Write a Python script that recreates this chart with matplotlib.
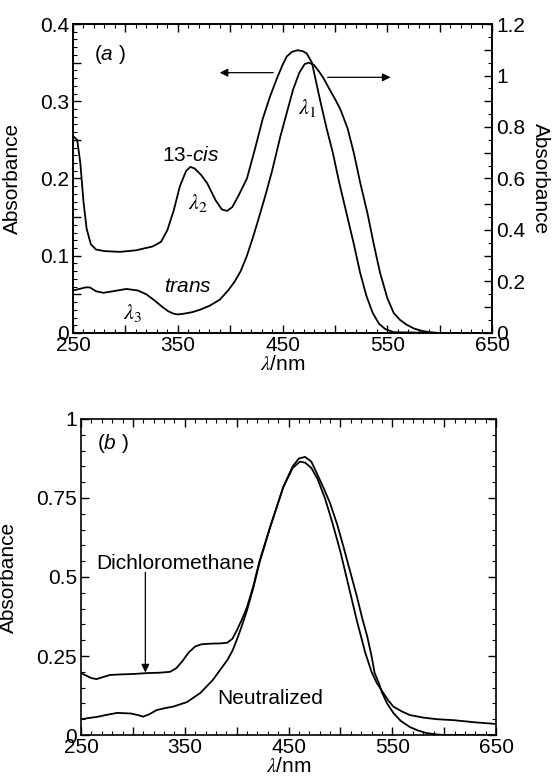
import numpy as np
import matplotlib
matplotlib.use("Agg")
import matplotlib.pyplot as plt
from matplotlib.ticker import MultipleLocator, FuncFormatter

plt.rcParams['font.family'] = ['Liberation Sans', 'DejaVu Sans']
plt.rcParams['mathtext.fontset'] = 'custom'
plt.rcParams['mathtext.rm'] = 'Liberation Sans'
plt.rcParams['mathtext.it'] = 'Liberation Sans:italic'
plt.rcParams['font.size'] = 15

# panel (a): 13-cis on left axis, trans on right axis
cis_wl = [250, 254, 257, 260, 263, 267, 272, 280, 295, 310, 326, 334, 340, 346, 352, 358, 362,
          366, 372, 378, 386, 392, 397, 402, 408, 416, 424, 431, 438, 445, 450, 454, 459, 464,
          469, 473, 478, 486, 492, 498, 504, 511, 518, 524, 530, 536, 542, 548, 552, 556, 600, 650]
cis_abs = [0.255, 0.25, 0.22, 0.17, 0.135, 0.115, 0.108, 0.106, 0.105, 0.107, 0.112, 0.118, 0.133,
           0.158, 0.19, 0.21, 0.215, 0.213, 0.205, 0.194, 0.172, 0.16, 0.158, 0.163, 0.178, 0.2,
           0.24, 0.277, 0.306, 0.331, 0.347, 0.358, 0.364, 0.366, 0.365, 0.362, 0.35, 0.3, 0.265,
           0.233, 0.195, 0.155, 0.115, 0.078, 0.048, 0.026, 0.012, 0.005, 0.003, 0.001, 0.0, 0.0]

trans_wl = [250, 256, 262, 266, 272, 279, 288, 301, 312, 320, 327, 335, 341, 346, 350, 356, 364,
            371, 380, 390, 398, 404, 410, 416, 422, 428, 434, 440, 448, 454, 460, 466, 471, 475,
            480, 485, 489, 495, 500, 505, 512, 518, 524, 531, 537, 543, 550, 556, 562, 568, 575,
            582, 590, 600, 650]
trans_abs = [0.165, 0.171, 0.177, 0.177, 0.162, 0.156, 0.162, 0.171, 0.165, 0.15, 0.129, 0.102,
             0.084, 0.075, 0.072, 0.075, 0.081, 0.09, 0.105, 0.129, 0.165, 0.198, 0.24, 0.3, 0.375,
             0.456, 0.54, 0.63, 0.765, 0.855, 0.945, 1.011, 1.044, 1.05, 1.041, 1.014, 0.99, 0.945,
             0.909, 0.87, 0.795, 0.699, 0.585, 0.465, 0.345, 0.234, 0.135, 0.078, 0.051, 0.033,
             0.018, 0.009, 0.003, 0.0, 0.0]

# panel (b)
dcm_wl = [250, 255, 260, 265, 270, 278, 290, 300, 314, 325, 336, 342, 348, 354, 360, 366, 375, 385,
          391, 396, 400, 405, 410, 416, 422, 432, 445, 454, 461, 466, 472, 478, 485, 492, 500, 508,
          516, 524, 530, 535, 540, 546, 551, 559, 567, 580, 593, 609, 630, 650]
dcm_abs = [0.196, 0.188, 0.18, 0.177, 0.182, 0.19, 0.192, 0.193, 0.196, 0.197, 0.2, 0.212, 0.235,
           0.262, 0.28, 0.287, 0.289, 0.29, 0.292, 0.305, 0.33, 0.365, 0.405, 0.47, 0.55, 0.655,
           0.785, 0.845, 0.865, 0.862, 0.845, 0.81, 0.75, 0.675, 0.58, 0.47, 0.36, 0.26, 0.2, 0.165,
           0.14, 0.11, 0.09, 0.075, 0.063, 0.055, 0.05, 0.047, 0.04, 0.035]

neu_wl = [250, 258, 265, 275, 285, 298, 305, 310, 316, 323, 331, 339, 352, 365, 377, 385, 391, 396,
          400, 405, 410, 416, 422, 432, 445, 454, 460, 466, 472, 477, 484, 490, 497, 503, 510, 516,
          521, 526, 530, 533, 537, 540, 545, 551, 558, 567, 575, 583, 592, 600, 650]
neu_abs = [0.05, 0.054, 0.057, 0.064, 0.07, 0.068, 0.063, 0.058, 0.066, 0.079, 0.085, 0.09, 0.104,
           0.133, 0.174, 0.21, 0.237, 0.267, 0.3, 0.345, 0.395, 0.465, 0.545, 0.655, 0.785, 0.85,
           0.875, 0.88, 0.865, 0.83, 0.78, 0.734, 0.665, 0.595, 0.51, 0.437, 0.37, 0.31, 0.25,
           0.196, 0.165, 0.135, 0.1, 0.07, 0.045, 0.025, 0.014, 0.006, 0.002, 0.0, 0.0]

LW = 1.3
fig = plt.figure(figsize=(5.53, 7.82), dpi=100)


def every(step, fmt, start=0.0):
    # label only every `step` counted from `start`, blank in between
    def f(v, pos):
        k = (v - start) / step
        if abs(k - round(k)) > 1e-6:
            return ""
        return fmt(v)
    return FuncFormatter(f)


def num(v):
    return f"{v:.2f}".rstrip("0").rstrip(".")


def style_x(ax):
    ax.set_xlim(250, 650)
    ax.xaxis.set_major_locator(MultipleLocator(50))
    ax.xaxis.set_minor_locator(MultipleLocator(10))
    ax.xaxis.set_major_formatter(every(100, lambda v: f"{v:.0f}", start=250))
    ax.tick_params(axis='x', which='major', direction='in', length=6, width=1, top=True, pad=2)
    ax.tick_params(axis='x', which='minor', direction='in', length=3, width=0.8, top=True)


# ---- (a)
ax1 = fig.add_axes([0.132, 0.5742, 0.758, 0.3951])
ax1.plot(cis_wl, cis_abs, color='black', lw=LW)
ax1.set_ylim(0, 0.4)
style_x(ax1)
ax1.yaxis.set_major_locator(MultipleLocator(0.05))
ax1.yaxis.set_minor_locator(MultipleLocator(0.01))
ax1.yaxis.set_major_formatter(every(0.1, num))
ax1.tick_params(axis='y', which='major', direction='in', length=6, width=1, right=False, pad=3)
ax1.tick_params(axis='y', which='minor', direction='in', length=3, width=0.8, right=False)
ax1.set_ylabel("Absorbance")
ax1.yaxis.set_label_coords(-0.122, 0.5)
ax1.set_xlabel(r"$\lambda$/nm", math_fontfamily='stix', labelpad=0)

ax2 = ax1.twinx()
ax2.plot(trans_wl, trans_abs, color='black', lw=LW)
ax2.set_ylim(0, 1.2)
ax2.yaxis.set_major_locator(MultipleLocator(0.1))
ax2.yaxis.set_minor_locator(MultipleLocator(0.05))
ax2.yaxis.set_major_formatter(every(0.2, num))
ax2.tick_params(axis='y', which='major', direction='in', length=6, width=1, pad=3)
ax2.tick_params(axis='y', which='minor', direction='in', length=3, width=0.8)
ax2.set_ylabel("Absorbance", rotation=270, va='center')
ax2.yaxis.set_label_coords(1.115, 0.5)

for ax in (ax1, ax2):
    for sp in ax.spines.values():
        sp.set_linewidth(1.2)

arrow = dict(arrowstyle='-|>', color='black', lw=0.9, mutation_scale=12, shrinkA=0, shrinkB=0)
ax1.annotate("", xy=(390, 0.337), xytext=(441, 0.337), arrowprops=arrow)
ax1.annotate("", xy=(553, 0.331), xytext=(493, 0.331), arrowprops=arrow)

ax1.text(285, 0.36, r"($a$ )", ha='center', va='center')
ax1.text(362, 0.230, r"13-$cis$", ha='center', va='center')
ax1.text(360, 0.060, r"$trans$", ha='center', va='center')
ax1.text(369, 0.168, r"$\lambda_2$", ha='center', va='center', math_fontfamily='stix', fontsize=16)
ax1.text(307, 0.026, r"$\lambda_3$", ha='center', va='center', math_fontfamily='stix', fontsize=16)
ax1.text(474, 0.291, r"$\lambda_1$", ha='center', va='center', math_fontfamily='stix', fontsize=16)

# ---- (b)
ax3 = fig.add_axes([0.1465, 0.0601, 0.7505, 0.4041])
ax3.plot(dcm_wl, dcm_abs, color='black', lw=LW)
ax3.plot(neu_wl, neu_abs, color='black', lw=LW)
ax3.set_ylim(0, 1)
style_x(ax3)
ax3.yaxis.set_major_locator(MultipleLocator(0.25))
ax3.yaxis.set_minor_locator(MultipleLocator(0.05))
ax3.yaxis.set_major_formatter(FuncFormatter(lambda v, p: num(v)))
ax3.tick_params(axis='y', which='major', direction='in', length=6, width=1, right=True, pad=3)
ax3.tick_params(axis='y', which='minor', direction='in', length=3, width=0.8, right=True)
ax3.set_ylabel("Absorbance")
ax3.yaxis.set_label_coords(-0.152, 0.5)
ax3.set_xlabel(r"$\lambda$/nm", math_fontfamily='stix', labelpad=0)
for sp in ax3.spines.values():
    sp.set_linewidth(1.2)

ax3.text(281, 0.924, r"($b$ )", ha='center', va='center')
ax3.text(341, 0.544, "Dichloromethane", ha='center', va='center')
ax3.annotate("", xy=(312, 0.198), xytext=(312, 0.515), arrowprops=arrow)
ax3.text(432, 0.117, "Neutralized", ha='center', va='center')

fig.savefig("out.png", dpi=100)
